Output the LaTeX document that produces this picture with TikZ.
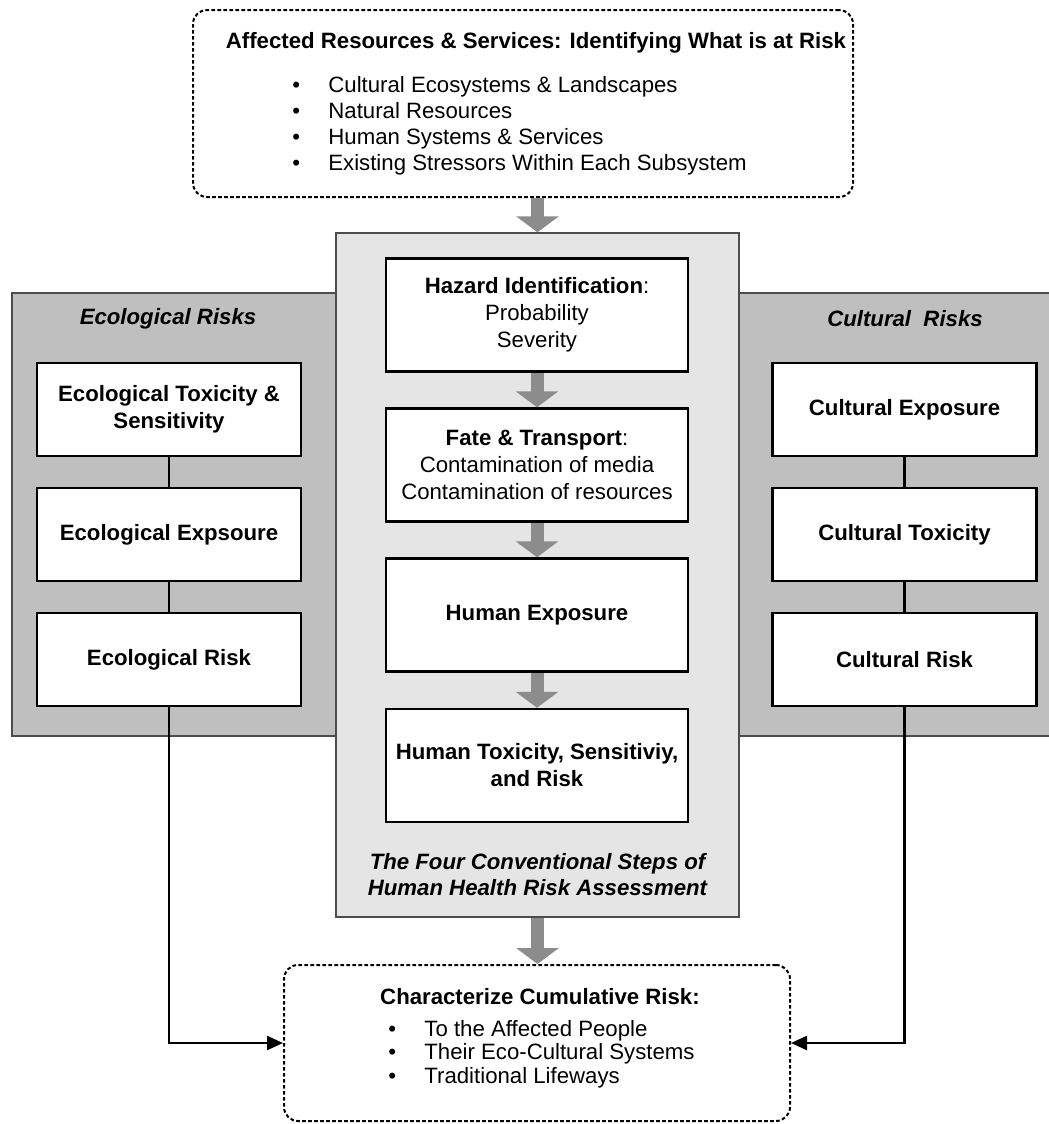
\documentclass[tikz,border=0pt]{standalone}
\usepackage{fontspec}
\setmainfont{Liberation Sans}
\usetikzlibrary{arrows.meta}

\begin{document}
\begin{tikzpicture}[x=0.5pt,y=-0.5pt,
  panel/.style={draw=black!70,line width=0.7pt,inner sep=0pt},
  boxnode/.style={draw=black,line width=1.2pt,fill=white,align=center,inner sep=0pt,
    font=\fontsize{11.1}{13.5}\selectfont\bfseries},
  sidebox/.style={boxnode,minimum width=132pt,minimum height=46.5pt},
  stepbox/.style={boxnode,minimum width=151pt,minimum height=56.5pt},
  dotbox/.style={draw=black,line width=1pt,dash pattern=on 1.8pt off 1.2pt,rounded corners=7pt,fill=white,inner sep=0pt},
  heading/.style={font=\fontsize{11.1}{13}\selectfont\bfseries\itshape,align=center},
  listtext/.style={align=left,inner sep=0pt},
  grayarrow/.style={draw=black!45,line width=6.5pt,-{Triangle[length=8pt,width=21pt]}},
  link/.style={line width=1.2pt,-{Triangle[length=8pt,width=7pt]}}]

\useasboundingbox (0,0) rectangle (1049,1124);

% panels
\node[panel,fill=black!25,minimum width=162pt,minimum height=221.5pt] (ecopanel) at (174,514.5) {};
\node[panel,fill=black!25,minimum width=158pt,minimum height=221.5pt] (culpanel) at (897,514.5) {};
\node[panel,fill=black!10,minimum width=201.5pt,minimum height=342pt] (steps) at (537.5,575) {};

\node[heading] (ecohead) at (168,319) {Ecological Risks};
\node[heading] (culhead) at (905,319) {Cultural\ \ Risks};

% ecological column
\node[sidebox] (ecotox) at (169,409.5) {Ecological Toxicity \&\\Sensitivity};
\node[sidebox] (ecoexp) at (169,534.5) {Ecological Expsoure};
\node[sidebox] (ecorisk) at (169,659.5) {Ecological Risk};
\draw[line width=1.2pt] (ecotox) -- (ecoexp);
\draw[line width=1.2pt] (ecoexp) -- (ecorisk);

% cultural column
\node[sidebox] (culexp) at (904.5,409.5) {Cultural Exposure};
\node[sidebox] (cultox) at (904.5,534.5) {Cultural Toxicity};
\node[sidebox] (culrisk) at (904.5,659.5) {Cultural Risk};
\draw[line width=1.2pt] (culexp) -- (cultox);
\draw[line width=1.2pt] (cultox) -- (culrisk);

% four steps
\node[stepbox] (hazard) at (537,315) {Hazard Identification{\mdseries:}\\{\mdseries Probability}\\{\mdseries Severity}};
\node[stepbox] (fate) at (537,465) {Fate \& Transport{\mdseries:}\\{\mdseries Contamination of media}\\{\mdseries Contamination of resources}};
\node[stepbox] (humexp) at (537,615) {Human Exposure};
\node[stepbox] (humtox) at (537,765.5) {Human Toxicity, Sensitiviy,\\and Risk};
\node[heading] (stepshead) at (537.5,875) {The Four Conventional Steps of\\Human Health Risk Assessment};

\draw[grayarrow] (hazard) -- (fate);
\draw[grayarrow] (fate) -- (humexp);
\draw[grayarrow] (humexp) -- (humtox);

% what is at risk
\node[dotbox,minimum width=330pt,minimum height=93.5pt] (atrisk) at (523,103.5) {};
\node[font=\fontsize{11.1}{13}\selectfont\bfseries] (atrisktitle) at (536,43) {Affected Resources \& Services: Identifying What is at Risk};
\node[listtext,font=\fontsize{11.1}{13}\selectfont,anchor=west] (atrisklist) at (292,126) {%
  \makebox[18pt][l]{\textbullet}Cultural Ecosystems \& Landscapes\\
  \makebox[18pt][l]{\textbullet}Natural Resources\\
  \makebox[18pt][l]{\textbullet}Human Systems \& Services\\
  \makebox[18pt][l]{\textbullet}Existing Stressors Within Each Subsystem};

% cumulative risk
\node[dotbox,minimum width=253pt,minimum height=78pt] (result) at (537,1043) {};
\node[font=\fontsize{11.1}{13}\selectfont\bfseries] (resulttitle) at (540,997) {Characterize Cumulative Risk:};
\node[listtext,font=\fontsize{11.1}{11.8}\selectfont,anchor=west] (resultlist) at (388,1054) {%
  \makebox[18pt][l]{\textbullet}To the Affected People\\
  \makebox[18pt][l]{\textbullet}Their Eco-Cultural Systems\\
  \makebox[18pt][l]{\textbullet}Traditional Lifeways};

\draw[grayarrow] (atrisk.south -| steps.north) -- (steps.north);
\draw[grayarrow] (steps.south) -- (result.north -| steps.south);

\draw[link] (ecorisk.south) |- (result.west);
\draw[link] (culrisk.south) |- (result.east);
\end{tikzpicture}
\end{document}
